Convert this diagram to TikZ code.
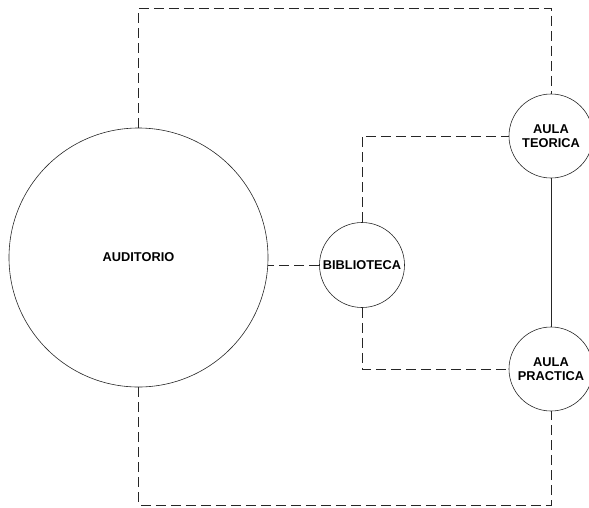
\documentclass[tikz,border=0pt]{standalone}
\usepackage{fontspec}
\setmainfont{Liberation Sans}
\begin{document}
\begin{tikzpicture}[x=1pt,y=-1pt,
  room/.style={circle,draw=black!85,line width=0.6pt,inner sep=0pt,
    font=\bfseries\fontsize{12.8}{14.5}\selectfont,align=center},
  link/.style={draw=black!85,line width=0.6pt,dash pattern=on 10pt off 5pt},
  wall/.style={draw=black!85,line width=0.7pt}]
\useasboundingbox (0,0) rectangle (589,507);
\node[room,minimum size=259pt] (aud) at (138.5,257.5) {AUDITORIO};
\node[room,minimum size=85pt] (bib) at (362,265) {BIBLIOTECA};
\node[room,minimum size=84pt] (teo) at (551,136) {AULA\\TEORICA};
\node[room,minimum size=84pt] (pra) at (551,369) {AULA\\PRACTICA};
\coordinate (tl) at (138.5,8);
\coordinate (bl) at (138.5,505);
\draw[link] (aud.north) -- (tl) -| (teo.north);
\draw[link] (aud.south) -- (bl) -| (pra.south);
\draw[link] (bib.west) -- (aud.east |- bib.west);
\draw[link] (bib.north) |- (teo.west);
\draw[link] (bib.south) |- (pra.west);
\draw[wall] (teo.south) -- (pra.north);
\end{tikzpicture}
\end{document}
